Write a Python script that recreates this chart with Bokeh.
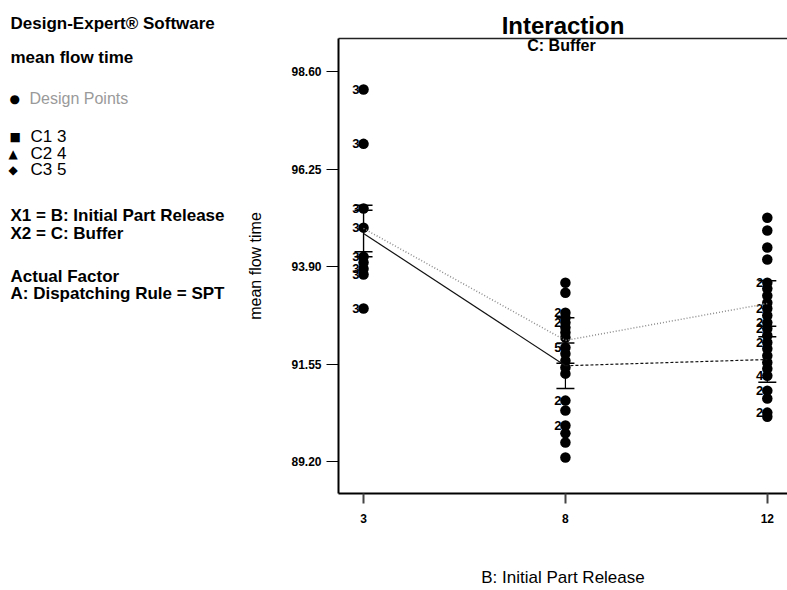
from bokeh.plotting import figure
from bokeh.layouts import row
from bokeh.models import (ColumnDataSource, Range1d, FixedTicker, LinearAxis,
                          Label, Whisker, TeeHead)
from bokeh.core.properties import value
from bokeh.embed import file_html
from bokeh.resources import INLINE

# ---- data -------------------------------------------------------------
release_levels = ["3", "8", "12"]          # B: Initial Part Release
y_ticks = [89.20, 91.55, 93.90, 96.25, 98.60]

# design points (mean flow time) at each release level, with replicate tags
points_r3 = [98.17, 96.86, 95.30, 94.84, 94.14, 94.00, 93.85, 93.71, 92.89]
tags_r3 = ["3", "3", "3", "3", "3", "", "3", "3", "3"]

points_r8 = [93.51, 93.27, 92.79, 92.67, 92.55, 92.43, 92.31, 92.19, 91.95,
             91.80, 91.63, 91.47, 91.32, 90.67, 90.43, 90.07, 89.88, 89.66,
             89.30]
tags_r8 = ["", "", "2", "", "2", "", "", "", "5", "", "", "", "", "2", "",
           "2", "", "", ""]

points_r12 = [95.08, 94.77, 94.36, 94.07, 93.51, 93.37, 93.20, 93.03, 92.89,
              92.72, 92.55, 92.41, 92.24, 92.07, 91.92, 91.75, 91.59, 91.44,
              91.27, 90.91, 90.72, 90.38, 90.28]
tags_r12 = ["", "", "", "", "2", "", "", "", "2", "", "2", "2", "", "2", "",
            "", "", "", "4", "2", "", "2", ""]

# predicted means for the buffer levels shown, with LSD half-widths
buffer_c1_means = [94.70, 91.51, 91.66]
buffer_c3_means = [94.82, 92.12, 93.01]
lsd_half_width = [0.56, 0.55, 0.55]

FONT = "Liberation Sans"
H = 590
SIDE_W = 240
BL, FT, FB = 98, 38, 493          # main plot: left border, frame top / bottom (px)

# ---- side panel (settings text) ---------------------------------------
# its frame lines up with the main plot frame, so data y == page y in px
side = figure(width=SIDE_W, height=H, output_backend="svg", toolbar_location=None,
              x_range=Range1d(0, SIDE_W), y_range=Range1d(FB, FT),
              min_border_left=0, min_border_right=0, min_border_top=FT,
              min_border_bottom=H - FB, x_axis_type=None, y_axis_type=None,
              title="Design-Expert\u00ae Software")
side.title.align = "left"
side.title.offset = 10
side.title.vertical_align = "middle"
side.title.text_font = FONT
side.title.text_font_size = "17px"
side.title.text_font_style = "bold"
side.title.text_color = "black"
side.outline_line_color = None
side.xgrid.visible = False
side.ygrid.visible = False


def put(fig, text, cx, cy, size="17px", style="bold", color="black",
        align="left", font=FONT):
    fig.add_layout(Label(x=cx, y=cy, text=text, text_font=font,
                         text_font_size=size, text_font_style=style,
                         text_color=color, text_align=align,
                         text_baseline="middle"))


put(side, "mean flow time", 10, 57)
put(side, "\u25cf", 9, 98, size="12px", style="normal", font="DejaVu Sans")
put(side, "Design Points", 29, 98, size="16px", style="normal", color="#9a9a9a")
put(side, "\u25a0", 9, 136, size="12px", style="normal", font="DejaVu Sans")
put(side, "C1 3", 30, 136, size="17px", style="normal")
put(side, "\u25b2", 8, 153, size="12px", style="normal", font="DejaVu Sans")
put(side, "C2 4", 30, 153, size="17px", style="normal")
put(side, "\u25c6", 8, 169, size="12px", style="normal", font="DejaVu Sans")
put(side, "C3 5", 30, 169, size="17px", style="normal")
put(side, "X1 = B: Initial Part Release", 10, 215)
put(side, "X2 = C: Buffer", 10, 233)
put(side, "Actual Factor", 10, 276)
put(side, "A: Dispatching Rule = SPT", 10, 293)

# ---- interaction plot -------------------------------------------------
p = figure(width=787 - SIDE_W, height=H, output_backend="svg", toolbar_location=None,
           x_range=Range1d(-0.124, 2.10), y_range=Range1d(88.43, 99.40),
           min_border_left=BL, min_border_top=FT, min_border_bottom=H - FB,
           min_border_right=0, x_axis_type=None, y_axis_type=None,
           title="Interaction")
p.title.align = "center"
p.title.text_font = FONT
p.title.text_font_size = "24px"
p.title.text_font_style = "bold"
p.title.text_color = "black"
p.title.standoff = 0
p.outline_line_color = None
p.xgrid.visible = False
p.ygrid.visible = False

xaxis = LinearAxis(ticker=FixedTicker(ticks=list(range(len(release_levels)))),
                   major_label_overrides={i: s for i, s in enumerate(release_levels)})
xaxis.axis_line_width = 2
xaxis.axis_line_color = "black"
xaxis.major_tick_out = 10
xaxis.major_tick_in = 0
xaxis.major_tick_line_width = 2
xaxis.major_tick_line_color = "#444444"
xaxis.minor_tick_line_color = None
xaxis.major_label_standoff = 10
xaxis.major_label_text_font = FONT
xaxis.major_label_text_font_style = "bold"
xaxis.major_label_text_font_size = "12px"
xaxis.major_label_text_color = "black"
xaxis.axis_label = "B: Initial Part Release"
xaxis.axis_label_text_font = FONT
xaxis.axis_label_text_font_style = "normal"
xaxis.axis_label_text_font_size = "17px"
xaxis.axis_label_text_color = "black"
xaxis.axis_label_standoff = 42
p.add_layout(xaxis, "below")

yaxis = LinearAxis(ticker=FixedTicker(ticks=y_ticks))
yaxis.major_label_overrides = {t: f"{t:.2f}" for t in y_ticks}
yaxis.axis_line_width = 2
yaxis.axis_line_color = "black"
yaxis.major_tick_out = 12
yaxis.major_tick_in = 0
yaxis.major_tick_line_width = 1
yaxis.minor_tick_line_color = None
yaxis.major_label_standoff = 5
yaxis.major_label_text_font = FONT
yaxis.major_label_text_font_style = "bold"
yaxis.major_label_text_font_size = "12px"
yaxis.major_label_text_color = "black"
yaxis.axis_label = "mean flow time"
yaxis.axis_label_text_font = FONT
yaxis.axis_label_text_font_style = "normal"
yaxis.axis_label_text_font_size = "16px"
yaxis.axis_label_text_color = "black"
yaxis.axis_label_standoff = 24
p.add_layout(yaxis, "left")

# frame top edge
top_axis = LinearAxis(ticker=FixedTicker(ticks=[]))
top_axis.axis_line_width = 1.5
top_axis.axis_line_color = "#222222"
top_axis.major_tick_line_color = None
top_axis.minor_tick_line_color = None
top_axis.major_tick_out = 0
top_axis.major_label_standoff = 0
top_axis.major_label_text_font_size = "0px"
p.add_layout(top_axis, "above")

# design points
xs, ys, tags = [], [], []
for i, (pts, tg) in enumerate([(points_r3, tags_r3), (points_r8, tags_r8),
                               (points_r12, tags_r12)]):
    xs += [i] * len(pts)
    ys += pts
    tags += tg
pts_src = ColumnDataSource(dict(x=xs, y=ys, tag=tags))
p.scatter("x", "y", source=pts_src, size=10.5, color="black", line_width=0)
p.text("x", "y", text="tag", source=pts_src, x_offset=-4, text_align="right",
       text_baseline="middle", text_font=value(FONT), text_font_style="bold",
       text_font_size="13px", text_color="black")

# interaction lines
lx = list(range(len(release_levels)))
p.line(lx, buffer_c3_means, line_color="#8c8c8c", line_width=1.5,
       line_dash="1 2")
p.line(lx[:2], buffer_c1_means[:2], line_color="#111111", line_width=1.2)
p.line(lx[1:], buffer_c1_means[1:], line_color="#111111", line_width=1.2,
       line_dash="3 2")

# LSD bars
for means in (buffer_c1_means, buffer_c3_means):
    src = ColumnDataSource(dict(
        base=lx,
        upper=[m + h for m, h in zip(means, lsd_half_width)],
        lower=[m - h for m, h in zip(means, lsd_half_width)]))
    p.add_layout(Whisker(source=src, base="base", upper="upper", lower="lower",
                         line_color="black", line_width=1.2,
                         upper_head=TeeHead(size=18, line_color="black", line_width=1.5),
                         lower_head=TeeHead(size=18, line_color="black", line_width=1.5)))

# factor name inside the frame, just below its top edge
p.add_layout(Label(x=561 - (SIDE_W + BL), y=FB - 45,
                   x_units="screen", y_units="screen", text="C: Buffer",
                   text_font=FONT, text_font_size="16px", text_font_style="bold",
                   text_color="black", text_align="center", text_baseline="middle"))

layout = row(side, p, spacing=0)
open("out.html", "w").write(file_html(layout, INLINE))
